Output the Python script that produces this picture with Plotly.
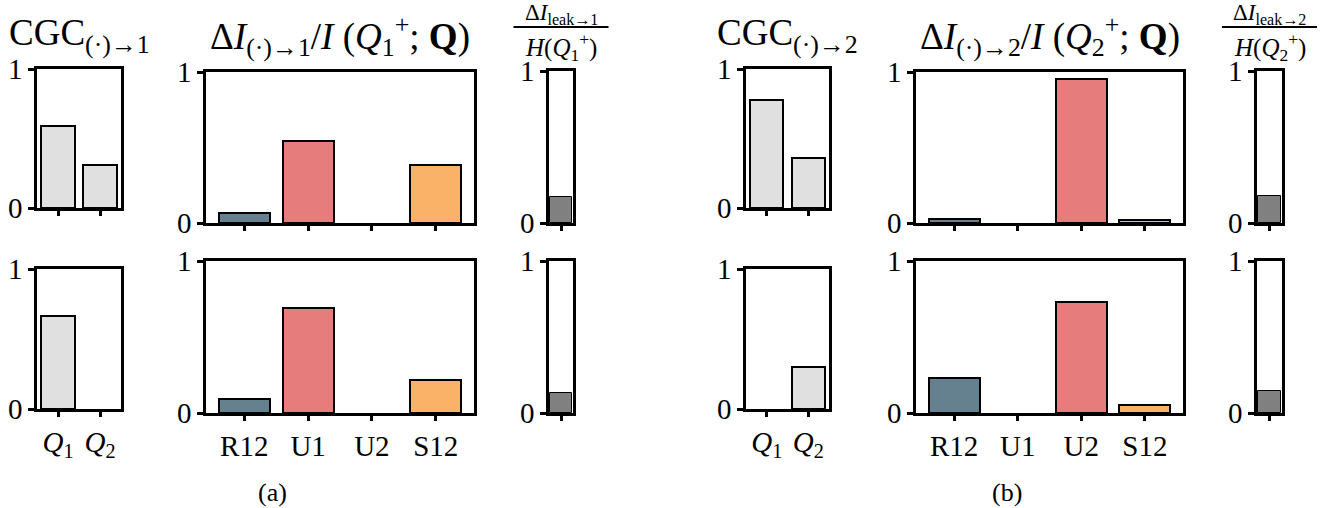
import plotly.graph_objects as go

# ---- data -------------------------------------------------------------
cgc_labels = ["<i>Q</i><sub>1</sub>", "<i>Q</i><sub>2</sub>"]
source_labels = ["R12", "U1", "U2", "S12"]
source_colors = ["#65818f", "#e67c7b", "#e67c7b", "#f9b267"]

cgc_a_top = [0.59, 0.31]
cgc_a_bot = [0.665, 0.0]
di_a_top = [0.064, 0.54, 0.0, 0.384]
di_a_bot = [0.092, 0.69, 0.0, 0.217]
leak_a = [0.17, 0.13]

cgc_b_top = [0.777, 0.36]
cgc_b_bot = [0.0, 0.30]
di_b_top = [0.025, 0.0, 0.953, 0.018]
di_b_bot = [0.23, 0.0, 0.73, 0.05]
leak_b = [0.18, 0.145]

# ---- geometry (pixels) ------------------------------------------------
W, H = 1341, 508
FONT = "Liberation Serif, DejaVu Serif, serif"

def dx(l, r):
    return [l / W, r / W]

def dy(t, b):
    return [1 - b / H, 1 - t / H]

rows_cgc = [(69, 208), (269, 409)]
rows_di = [(72, 223), (261, 413)]
rows_leak = [(71, 223), (261, 413)]

groups = [
    dict(cgc=(37, 121), di=(206, 474), leak=(549, 573),
         cgc_vals=[cgc_a_top, cgc_a_bot], di_vals=[di_a_top, di_a_bot], leak_vals=leak_a,
         tag="1", label="(a)", label_x=272),
    dict(cgc=(746, 829), di=(916, 1183), leak=(1257, 1282),
         cgc_vals=[cgc_b_top, cgc_b_bot], di_vals=[di_b_top, di_b_bot], leak_vals=leak_b,
         tag="2", label="(b)", label_x=1007),
]

fig = go.Figure()
layout = {}
annotations = []
shapes = []
n = 0

def axis_style(bottom_row, xr):
    common = dict(showline=True, linecolor="black", linewidth=2.5, mirror=True,
                  ticks="outside", tickcolor="black", tickwidth=2.5,
                  showgrid=False, zeroline=False, fixedrange=True, automargin=False,
                  tickfont=dict(family=FONT, size=29, color="black"))
    xa = dict(common, range=xr, ticklen=5, showticklabels=bottom_row)
    ya = dict(common, range=[0, 1], tickvals=[0, 1], ticktext=["0", "1"], ticklen=6)
    return xa, ya

def add_panel(xdom, ydom, xs, ys, colors, width, xr, bottom_row, ticktext=None, lw=2):
    global n
    n += 1
    xname = "xaxis" if n == 1 else f"xaxis{n}"
    yname = "yaxis" if n == 1 else f"yaxis{n}"
    xref = "x" if n == 1 else f"x{n}"
    yref = "y" if n == 1 else f"y{n}"
    # empty bars get no outline so nothing shows above the baseline
    widths = [lw if v > 0 else 0 for v in ys]
    fig.add_trace(go.Bar(x=xs, y=ys, width=width, xaxis=xref, yaxis=yref,
                         marker=dict(color=colors, line=dict(color="black", width=widths)),
                         showlegend=False, hoverinfo="skip"))
    xa, ya = axis_style(bottom_row, xr)
    xa.update(domain=xdom, anchor=yref)
    ya.update(domain=ydom, anchor=xref)
    if ticktext is not None:
        xa.update(tickmode="array", tickvals=list(range(len(ticktext))), ticktext=ticktext)
    layout[xname] = xa
    layout[yname] = ya

for g in groups:
    for r in range(2):
        bottom = r == 1
        # CGC panel
        add_panel(dx(*g["cgc"]), dy(*rows_cgc[r]), list(range(len(cgc_labels))),
                  g["cgc_vals"][r], "#e0e0e0", 0.8, [-0.5, 1.5], bottom, cgc_labels)
        # information decomposition panel
        add_panel(dx(*g["di"]), dy(*rows_di[r]), list(range(len(source_labels))),
                  g["di_vals"][r], source_colors, 0.8, [-0.6, 3.6], bottom, source_labels)
        # leak panel
        add_panel(dx(*g["leak"]), dy(*rows_leak[r]), [0], [g["leak_vals"][r]],
                  "#808080", 0.92, [-0.5, 0.5], bottom, [""], lw=1)

    t = g["tag"]
    cx_cgc = sum(g["cgc"]) / 2 / W
    cx_di = sum(g["di"]) / 2 / W
    cx_leak = sum(g["leak"]) / 2 / W
    annotations.append(dict(text=f"CGC<sub>(·)→{t}</sub>", x=cx_cgc, y=1 - 36 / H,
                            xref="paper", yref="paper", showarrow=False,
                            font=dict(family=FONT, size=37, color="black"),
                            xanchor="center", yanchor="middle"))
    annotations.append(dict(text=f"Δ<i>I</i><sub>(·)→{t}</sub>/<i>I</i> (<i>Q</i><sub>{t}</sub><sup>+</sup>; <b>Q</b>)",
                            x=cx_di, y=1 - 36 / H, xref="paper", yref="paper", showarrow=False,
                            font=dict(family=FONT, size=37, color="black"),
                            xanchor="center", yanchor="middle"))
    # fraction title of the leak panel
    annotations.append(dict(text=f"Δ<i>I</i><sub>leak→{t}</sub>", x=cx_leak, y=1 - 14 / H,
                            xref="paper", yref="paper", showarrow=False,
                            font=dict(family=FONT, size=23, color="black"),
                            xanchor="center", yanchor="middle"))
    annotations.append(dict(text=f"<i>H</i>(<i>Q</i><sub>{t}</sub><sup>+</sup>)", x=cx_leak, y=1 - 47 / H,
                            xref="paper", yref="paper", showarrow=False,
                            font=dict(family=FONT, size=25, color="black"),
                            xanchor="center", yanchor="middle"))
    half = 47.5 / W
    shapes.append(dict(type="line", xref="paper", yref="paper",
                       x0=cx_leak - half, x1=cx_leak + half, y0=1 - 27 / H, y1=1 - 27 / H,
                       line=dict(color="black", width=2)))
    annotations.append(dict(text=g["label"], x=g["label_x"] / W, y=1 - 492 / H,
                            xref="paper", yref="paper", showarrow=False,
                            font=dict(family=FONT, size=26, color="black"),
                            xanchor="center", yanchor="middle"))

fig.update_layout(**layout)
fig.update_layout(width=W, height=H,
                  margin=dict(l=0, r=0, t=0, b=0, pad=0, autoexpand=False),
                  paper_bgcolor="white", plot_bgcolor="white",
                  annotations=annotations, shapes=shapes, bargap=0)
fig.write_html("out.html")
